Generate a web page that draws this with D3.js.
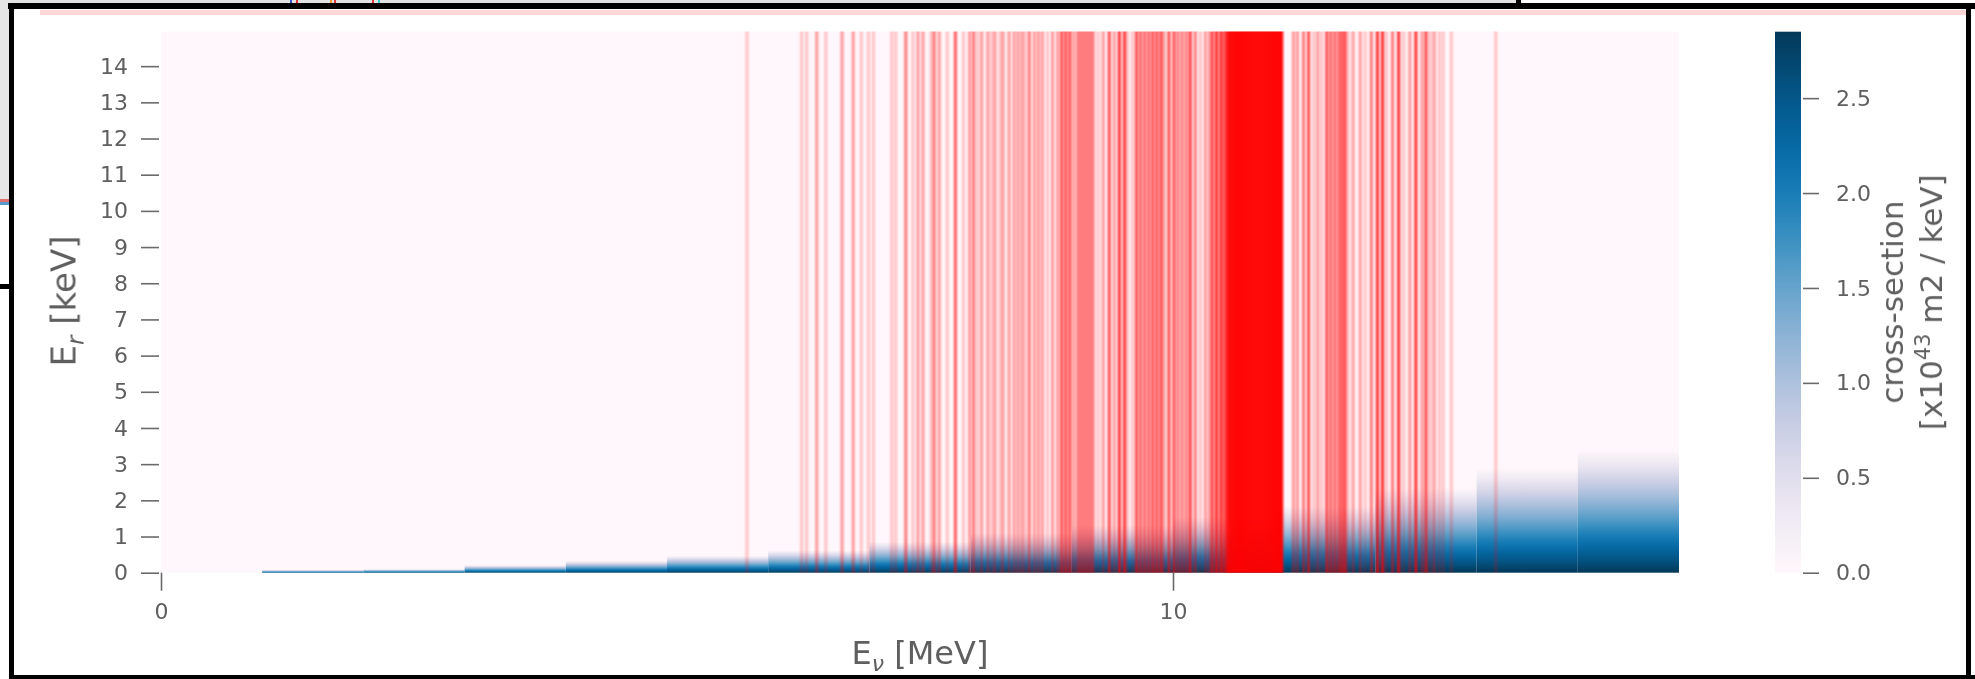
<!DOCTYPE html>
<html><head><meta charset="utf-8">
<script src="https://cdn.jsdelivr.net/npm/d3@7"></script>
<style>
body{margin:0;background:#fff;}
svg{display:block;font-family:"DejaVu Sans",sans-serif;}
</style></head><body>
<svg id="chart" width="1975" height="679"></svg>
<script>
// ---- data ----
const binLow  = [1,2,3,4,5,6,7,8,9,10,11,12,13,14];          // E_nu bin lower edge [MeV]
const binHigh = [2,3,4,5,6,7,8,9,10,11,12,13,14,15];         // E_nu bin upper edge [MeV]
const peakXsec = [2.5,2.6,2.7,2.75,2.8,2.8,2.82,2.82,2.83,2.84,2.84,2.85,2.85,2.85]; // at E_r = 0
const maxRecoil = [0.08,0.1,0.21,0.33,0.47,0.62,0.86,1.1,1.32,1.55,1.85,2.35,2.9,3.4]; // keV
const lineEnergies = [5.79,6.33,6.38,6.48,6.57,6.73,6.84,6.92,6.99,7.04,7.22,7.26,7.36,7.43,7.48,7.53,7.61,7.64,7.69,7.77,7.85,7.93,7.99,8.03,8.07,8.11,8.17,8.21,8.24,8.29,8.32,8.38,8.43,8.47,8.51,8.54,8.58,8.63,8.67,8.71,8.76,8.81,8.86,8.90,8.94,8.98,9.02,9.06,9.09,9.12,9.15,9.18,9.21,9.26,9.31,9.37,9.42,9.47,9.52,9.55,9.60,9.64,9.68,9.72,9.76,9.80,9.84,9.88,9.91,9.96,10.01,10.05,10.09,10.13,10.17,10.22,10.27,10.32,10.36,10.39,10.43,10.47,10.50,10.53,10.56,10.59,10.62,10.65,10.68,10.71,10.74,10.77,10.80,10.83,10.86,10.89,10.92,10.95,10.98,11.01,11.04,11.07,11.08,11.19,11.23,11.29,11.34,11.39,11.43,11.47,11.52,11.56,11.60,11.64,11.67,11.70,11.73,11.78,11.85,11.90,11.96,12.02,12.07,12.11,12.17,12.23,12.28,12.34,12.40,12.46,12.50,12.54,12.58,12.63,12.67,12.75,13.19];
const lineCounts = [1,1,1,2,1,2,2,1,1,1,1,1,3,1,2,2,1,3,2,1,4,1,2,3,1,2,2,1,2,1,2,2,2,2,2,1,3,2,2,2,1,2,2,5,5,5,2,3,3,3,3,3,3,1,2,5,2,7,6,1,1,5,4,4,4,5,5,5,2,5,5,3,3,3,6,3,1,2,2,5,8,6,4,8,12,13,14,15,15,15,15,15,15,15,15,15,15,15,15,15,15,15,1,2,2,3,5,1,2,1,5,4,4,4,4,5,1,2,2,1,3,7,7,1,3,7,1,2,7,2,5,1,2,1,1,1,1];
const yTickValues = [0,1,2,3,4,5,6,7,8,9,10,11,12,13,14];
const xTickValues = [0,10];
const cbTickValues = [0,0.5,1.0,1.5,2.0,2.5];
const cbMax = 2.85;

// ---- layout ----
const svg = d3.select("#chart");
const plot = {left:161, right:1679, top:31.6, bottom:572.7};
const x = d3.scaleLinear().domain([0,15]).range([plot.left, plot.right]);
const y = d3.scaleLinear().domain([0,14.955]).range([plot.bottom, plot.top]);
const color = d3.scaleSequential(d3.interpolatePuBu).domain([0, cbMax]);
const textCol = "#5f5f5f";

const defs = svg.append("defs");
const blur = defs.append("filter").attr("id","soft").attr("x","-5%").attr("y","-5%").attr("width","110%").attr("height","110%");
blur.append("feGaussianBlur").attr("stdDeviation","0.9 0.3");
const tblur = defs.append("filter").attr("id","tsoft");
tblur.append("feGaussianBlur").attr("stdDeviation","0.35");

// screenshot frame remnants
svg.append("rect").attr("x",0).attr("y",0).attr("width",1517).attr("height",4).attr("fill","#e2e2e2");
svg.append("rect").attr("x",0).attr("y",0).attr("width",10).attr("height",200).attr("fill","#e6e6e6");
svg.append("rect").attr("x",0).attr("y",199).attr("width",10).attr("height",3).attr("fill","#e07070");
svg.append("rect").attr("x",0).attr("y",202).attr("width",10).attr("height",3).attr("fill","#5a9ac8");
svg.append("rect").attr("x",0).attr("y",284).attr("width",14).attr("height",5).attr("fill","#000");
svg.append("rect").attr("x",8).attr("y",3).attr("width",1967).attr("height",6).attr("fill","#000");
svg.append("rect").attr("x",1516).attr("y",0).attr("width",5).attr("height",6).attr("fill","#000");
svg.append("rect").attr("x",40).attr("y",10).attr("width",1928).attr("height",5).attr("fill","#ffd6d6");
svg.append("rect").attr("x",9).attr("y",3).attr("width",5).attr("height",676).attr("fill","#000");
svg.append("rect").attr("x",9).attr("y",675).attr("width",1966).attr("height",4).attr("fill","#000");
svg.append("rect").attr("x",1966).attr("y",3).attr("width",5).attr("height",676).attr("fill","#000");
[[290,"#3355cc"],[296,"#dd3333"],[330,"#ee9933"],[334,"#dd3333"],[372,"#dd3333"],[378,"#33cccc"]].forEach(d=>{
  svg.append("rect").attr("x",d[0]).attr("y",0).attr("width",2).attr("height",3).attr("fill",d[1]);
});

// heatmap background (zero cells)
svg.append("rect").attr("x",x(0)).attr("y",y(14.955)).attr("width",x(15)-x(0)).attr("height",y(0)-y(14.955)).attr("fill",color(0));

// gradients per column
const cols = binLow.map((lo,i)=>({lo, hi:binHigh[i], peak:peakXsec[i], er:maxRecoil[i], i}));
const stopsT = d3.range(0,1.0001,0.05);
cols.forEach(c=>{
  const g = defs.append("linearGradient").attr("id","g"+c.i).attr("x1",0).attr("y1",1).attr("x2",0).attr("y2",0);
  stopsT.forEach(t=>{
    g.append("stop").attr("offset",t).attr("stop-color", color(c.peak*(1-t)));
  });
});
svg.append("g").selectAll("rect").data(cols).join("rect")
  .attr("x",d=>x(d.lo)).attr("width",d=>x(d.hi)-x(d.lo))
  .attr("y",d=>y(d.er)).attr("height",d=>y(0)-y(d.er))
  .attr("fill",d=>"url(#g"+d.i+")");

// red lines
const lines = lineEnergies.map((e,i)=>({e, n:lineCounts[i]}));
svg.append("g").attr("filter","url(#soft)").selectAll("line").data(lines).join("line")
  .attr("x1",d=>x(d.e)).attr("x2",d=>x(d.e))
  .attr("y1",y(14.955)).attr("y2",y(0))
  .attr("stroke","#ff0000").attr("stroke-width",d=>d.n>=9?3.6:3.0)
  .attr("stroke-opacity",d=>1-Math.pow(0.78,d.n));

// axes
const yAxis = svg.append("g").attr("transform",`translate(${plot.left-2},0)`)
  .call(d3.axisLeft(y).tickValues(yTickValues).tickSize(18).tickPadding(13).tickFormat(d3.format("d")));
const xAxis = svg.append("g").attr("transform",`translate(0,${plot.bottom})`)
  .call(d3.axisBottom(x).tickValues(xTickValues).tickSize(18).tickPadding(13).tickFormat(d3.format("d")));
[yAxis,xAxis].forEach(a=>{
  a.select(".domain").remove();
  a.selectAll("line").attr("stroke","#6a6a6a").attr("stroke-width",1.6);
  a.selectAll("text").attr("fill",textCol).attr("font-size",22).attr("font-family","DejaVu Sans").attr("filter","url(#tsoft)");
});

// axis labels
const xl = svg.append("text").attr("x",(plot.left+plot.right)/2).attr("y",664).attr("text-anchor","middle")
  .attr("fill",textCol).attr("font-size",32).attr("filter","url(#tsoft)");
xl.append("tspan").text("E");
xl.append("tspan").attr("font-size",22).attr("dy",7).attr("font-style","italic").text("ν");
xl.append("tspan").attr("dy",-7).text(" [MeV]");

// y label: placed so that its visible box is centred at (66, 301)
const ylG = svg.append("g").attr("transform",`translate(80,301)`);
const yl = ylG.append("text").attr("transform","rotate(-90)")
  .attr("text-anchor","middle").attr("fill",textCol).attr("font-size",34);
yl.append("tspan").text("E");
yl.append("tspan").attr("font-size",23).attr("dy",8).attr("font-style","italic").text("r");
yl.append("tspan").attr("dy",-8).text(" [keV]");
{
  const r = yl.node().getBoundingClientRect();
  const dx = 66 - (r.left + r.width/2), dy = 301 - (r.top + r.height/2);
  ylG.attr("transform",`translate(${80+dx},${301+dy})`);
  yl.attr("filter","url(#tsoft)");
}

// colorbar
const cb = {x:1775, w:26, top:31.7, bottom:572.7};
const cy = d3.scaleLinear().domain([0,cbMax]).range([cb.bottom, cb.top]);
const cg = defs.append("linearGradient").attr("id","cbg").attr("x1",0).attr("y1",1).attr("x2",0).attr("y2",0);
d3.range(0,1.0001,0.05).forEach(t=>cg.append("stop").attr("offset",t).attr("stop-color",color(t*cbMax)));
svg.append("rect").attr("x",cb.x).attr("y",cb.top).attr("width",cb.w).attr("height",cb.bottom-cb.top).attr("fill","url(#cbg)");
const cAxis = svg.append("g").attr("transform",`translate(${cb.x+cb.w+2},0)`)
  .call(d3.axisRight(cy).tickValues(cbTickValues).tickSize(16).tickPadding(17).tickFormat(d3.format(".1f")));
cAxis.select(".domain").remove();
cAxis.selectAll("line").attr("stroke","#6a6a6a").attr("stroke-width",1.6);
cAxis.selectAll("text").attr("fill",textCol).attr("font-size",22).attr("font-family","DejaVu Sans").attr("filter","url(#tsoft)");

svg.append("text").attr("transform",`translate(1903,${(cb.top+cb.bottom)/2}) rotate(-90)`)
  .attr("text-anchor","middle").attr("fill",textCol).attr("font-size",31).attr("filter","url(#tsoft)").text("cross-section");
const cl2 = svg.append("text").attr("transform",`translate(1942,${(cb.top+cb.bottom)/2}) rotate(-90)`)
  .attr("text-anchor","middle").attr("fill",textCol).attr("font-size",31).attr("filter","url(#tsoft)");
cl2.append("tspan").text("[x10");
cl2.append("tspan").attr("font-size",21).attr("dy",-12).text("43");
cl2.append("tspan").attr("dy",12).text(" m2 / keV]");
</script>
</body></html>
